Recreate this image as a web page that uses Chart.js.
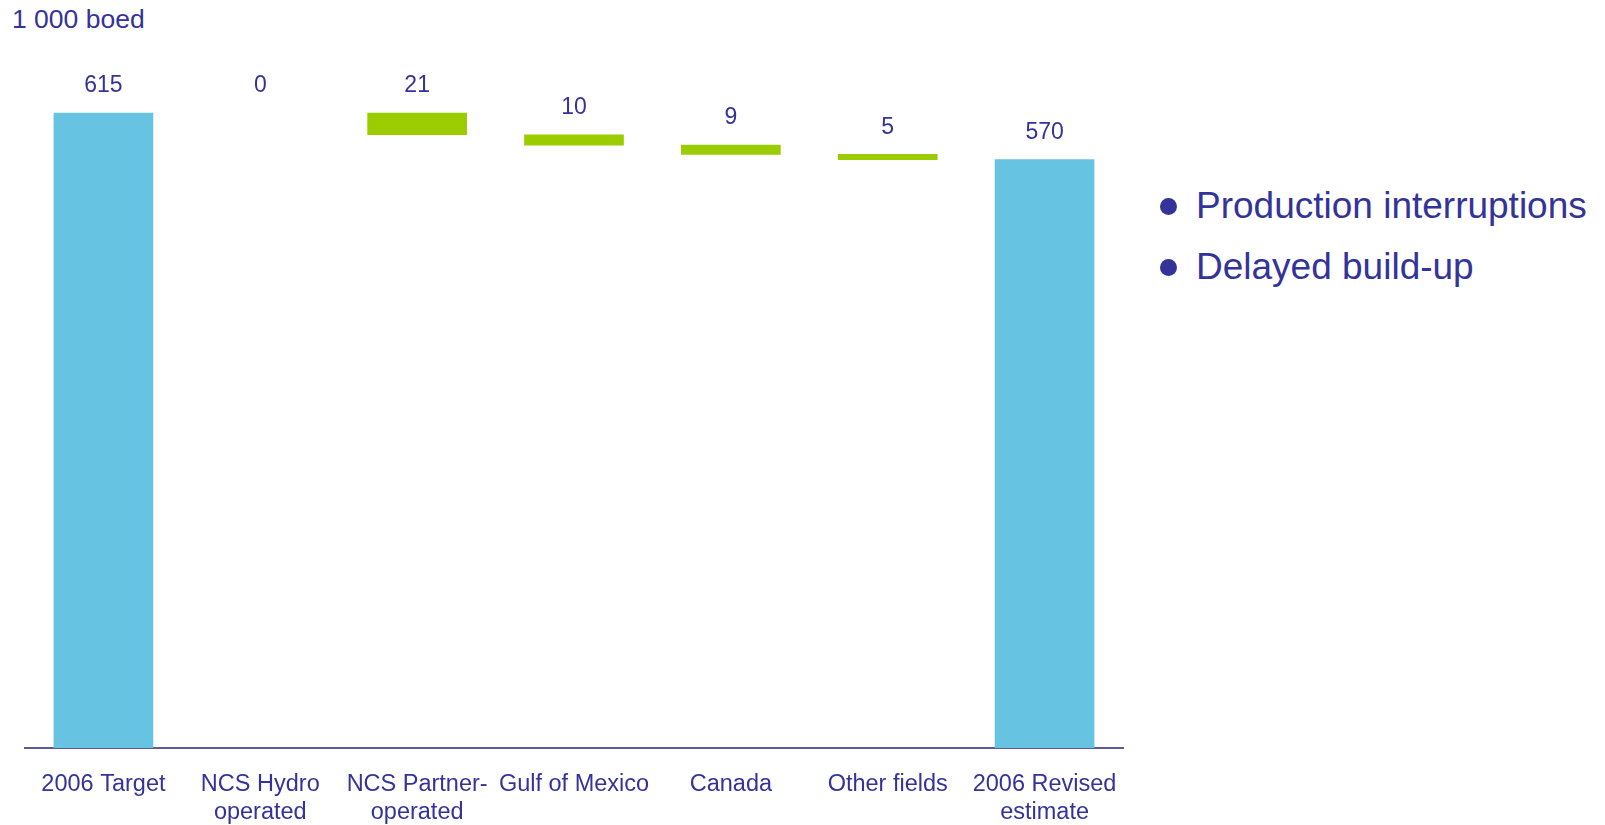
<!DOCTYPE html>
<html>
<head>
<meta charset="utf-8">
<script src="https://cdn.jsdelivr.net/npm/chart.js@4.4.1/dist/chart.umd.min.js"></script>
<style>
  html, body { margin: 0; padding: 0; background: #fff; }
  body { width: 1605px; height: 825px; position: relative; overflow: hidden;
         font-family: "Liberation Sans", Arial, sans-serif; color: #333399; }
  #unidad { position: absolute; left: 12px; top: 6px; font-size: 26.5px; line-height: 26px; }
  #contenedor { position: absolute; left: 0; top: 0; width: 1140px; height: 825px; }
  #notas { position: absolute; left: 1196px; top: 175px; margin: 0; padding: 0; list-style: none;
           font-size: 37px; line-height: 61px; white-space: nowrap; }
  #notas li { position: relative; }
  #notas li::before { content: ""; position: absolute; left: -36px; top: 23px; width: 17px; height: 17px;
                      border-radius: 50%; background: #333399; }
</style>
</head>
<body>
<div id="unidad">1 000 boed</div>
<div id="contenedor"><canvas id="grafico"></canvas></div>
<ul id="notas">
  <li>Production interruptions</li>
  <li>Delayed build-up</li>
</ul>
<script>
const categorias = [
  ["2006 Target"],
  ["NCS Hydro", "operated"],
  ["NCS Partner-", "operated"],
  ["Gulf of Mexico"],
  ["Canada"],
  ["Other fields"],
  ["2006 Revised", "estimate"],
];
// totales (barras completas) y cambios (barras flotantes)
const esTotal = [true, false, false, false, false, false, true];
const valores = [615, 0, -21, -10, -9, -5, 570];
const etiquetas = ["615", "0", "21", "10", "9", "5", "570"];

const colorTotal = "#66c3e2";
const colorCambio = "#9acc00";

// armar rangos del waterfall a partir de los valores
let acumulado = 0;
const rangos = valores.map((valor, i) => {
  if (esTotal[i]) {
    acumulado = valor;
    return [0, valor];
  }
  const inicio = acumulado;
  acumulado += valor;
  return [acumulado, inicio];
});

const colores = valores.map((valor, i) => {
  if (esTotal[i]) return colorTotal;
  return valor === 0 ? "rgba(0,0,0,0)" : colorCambio;
});

const etiquetasDatos = {
  id: "etiquetasDatos",
  afterDatasetsDraw(chart) {
    const { ctx } = chart;
    const meta = chart.getDatasetMeta(0);
    ctx.save();
    ctx.font = "23px 'Liberation Sans', Arial, sans-serif";
    ctx.fillStyle = "#333399";
    ctx.textAlign = "center";
    ctx.textBaseline = "middle";
    meta.data.forEach((barra, i) => {
      ctx.fillText(etiquetas[i], barra.x, barra.y - 27);
    });
    ctx.restore();
  },
};

new Chart(document.querySelector("#grafico"), {
  type: "bar",
  data: {
    labels: categorias,
    datasets: [
      {
        data: rangos,
        backgroundColor: colores,
        borderWidth: 0,
        barThickness: 99,
      },
    ],
  },
  options: {
    responsive: true,
    maintainAspectRatio: false,
    animation: false,
    layout: { padding: { left: 25, right: 17, top: 46, bottom: 0 } },
    plugins: {
      legend: { display: false },
      tooltip: { enabled: false },
    },
    scales: {
      x: {
        grid: { display: false, drawTicks: false },
        border: { display: true, color: "#5b5b9b", width: 2 },
        ticks: {
          color: "#333399",
          padding: 22,
          maxRotation: 0,
          autoSkip: false,
          font: { family: "'Liberation Sans', Arial, sans-serif", size: 23.5, lineHeight: 1.22 },
        },
        afterFit: (escala) => {
          escala.height = 77;
        },
      },
      y: {
        display: false,
        min: 0,
        max: 680,
      },
    },
  },
  plugins: [etiquetasDatos],
});
</script>
</body>
</html>
